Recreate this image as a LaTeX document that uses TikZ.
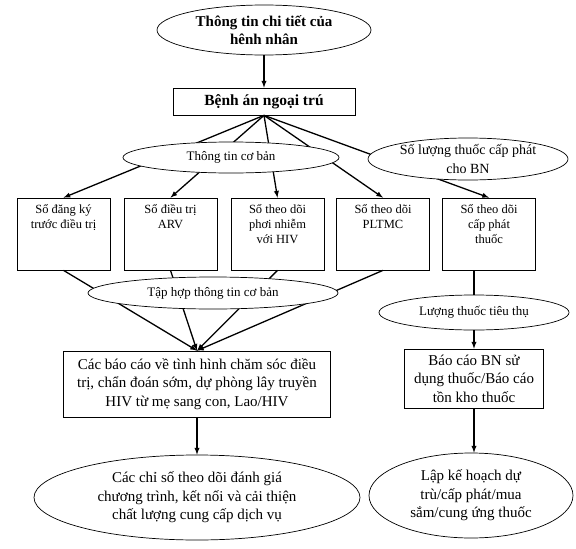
\documentclass[tikz,border=0pt]{standalone}
\usepackage{fontspec}
\setmainfont{Liberation Serif}
\usetikzlibrary{shapes.geometric}

% text sits at the top of the register boxes
\newcommand\regtext[1]{\parbox[c][60pt][t]{90pt}{\centering #1}}

\begin{document}
\begin{tikzpicture}[>=latex, x=1pt, y=-1pt,
  box/.style={draw, line width=0.7pt, align=center, inner sep=0pt},
  oval/.style={draw, ellipse, fill=white, line width=0.7pt, inner sep=0pt, align=center},
  link/.style={line width=1.3pt},
  big/.style={font=\fontsize{15}{18.5}\selectfont},
  small/.style={font=\fontsize{12.5}{15}\selectfont}]
\useasboundingbox (0,0) rectangle (576,549);

\node[oval, minimum width=214, minimum height=50, font=\bfseries\fontsize{15}{18}\selectfont]
  (info) at (264,30) {Thông tin chi tiết của\\hênh nhân};
\node[box, minimum width=182, minimum height=27, font=\bfseries\fontsize{15.5}{18}\selectfont]
  (record) at (264,101.5) {Bệnh án ngoại trú};

\node[box, small, minimum width=93, minimum height=72] (reg1) at (63.5,234) {\regtext{Sổ đăng ký\\trước điều trị}};
\node[box, small, minimum width=93, minimum height=72] (reg2) at (170.5,234) {\regtext{Sổ điều trị\\ARV}};
\node[box, small, minimum width=93, minimum height=72] (reg3) at (277.5,234) {\regtext{Sổ theo dõi\\phơi nhiễm\\với HIV}};
\node[box, small, minimum width=93, minimum height=72] (reg4) at (383,234) {\regtext{Sổ theo dõi\\PLTMC}};
\node[box, small, minimum width=93, minimum height=72] (reg5) at (489,234) {\regtext{Sổ theo dõi\\cấp phát\\thuốc}};

\node[box, big, minimum width=267, minimum height=66] (report) at (197,384)
  {Các báo cáo về tình hình chăm sóc điều\\trị, chẩn đoán sớm, dự phòng lây truyền\\HIV từ mẹ sang con, Lao/HIV};
\node[oval, big, minimum width=326, minimum height=85, inner xsep=-8pt] (index) at (197,497.5)
  {Các chỉ số theo dõi đánh giá\\chương trình, kết nối và cải thiện\\chất lượng cung cấp dịch vụ};

\node[oval, font=\fontsize{13}{15.5}\selectfont, minimum width=190, minimum height=35] (used) at (474,312.5) {Lượng thuốc tiêu thụ};
\node[box, big, minimum width=139, minimum height=59] (stock) at (474,378.5)
  {Báo cáo BN sử\\dụng thuốc/Báo cáo\\tồn kho thuốc};
\node[oval, big, minimum width=204, minimum height=85, inner xsep=-14pt] (plan) at (471,495.5)
  {Lập kế hoạch dự\\trù/cấp phát/mua\\sắm/cung ứng thuốc};

% connectors
\draw[link,->] (info) -- (record);
\foreach \r in {reg1,reg2,reg3,reg4,reg5} {
  \draw[link,->] (record.south) -- (\r.north);
}
\foreach \r in {reg1,reg2,reg3,reg4} {
  \draw[link,->] (\r.south) -- (report.north);
}
\draw[link,->] (report.south) -- (report.south |- index.north);
\draw[link] (reg5.south -| used.north) -- (used.north);
\draw[link,->] (used) -- (stock);
\draw[link,->] (stock.south) -- (stock.south |- plan.north);

% labels laid over the lines
\node[oval, font=\fontsize{13}{15.5}\selectfont, minimum width=216, minimum height=31] (basic) at (231,157.5) {Thông tin cơ bản};
\node[oval, font=\fontsize{14}{19}\selectfont, minimum width=200, minimum height=42, inner xsep=-6pt] (amount) at (468,159)
  {Số lượng thuốc cấp phát\\cho BN};
\node[oval, font=\fontsize{13}{15.5}\selectfont, minimum width=250, minimum height=32] (collect) at (213,293) {Tập hợp thông tin cơ bản};
\end{tikzpicture}
\end{document}
